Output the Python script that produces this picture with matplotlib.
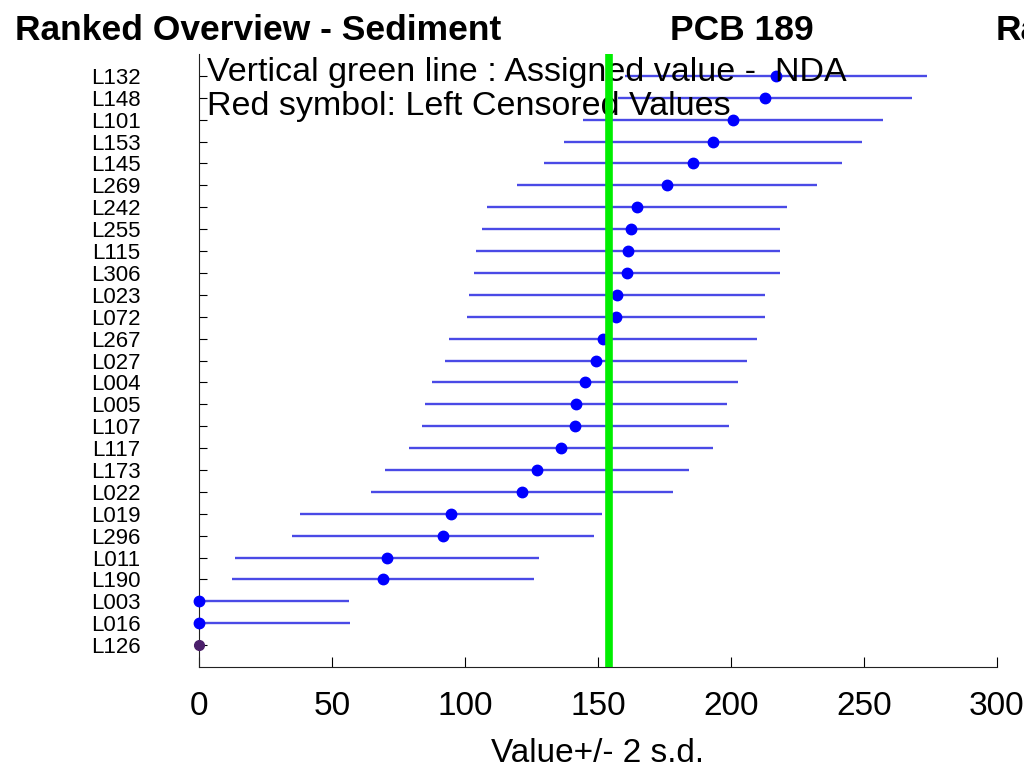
import matplotlib.pyplot as plt
import numpy as np

labs = ['L132', 'L148', 'L101', 'L153', 'L145', 'L269', 'L242', 'L255', 'L115',
        'L306', 'L023', 'L072', 'L267', 'L027', 'L004', 'L005', 'L107', 'L117',
        'L173', 'L022', 'L019', 'L296', 'L011', 'L190', 'L003', 'L016', 'L126']
values = [216.9, 212.8, 200.8, 193.2, 185.7, 175.9, 164.7, 162.4, 161.3,
          160.9, 157.1, 156.8, 151.9, 149.2, 145.1, 141.7, 141.4, 136.1,
          127.1, 121.4, 94.7, 91.7, 70.7, 69.2, 0.0, 0.0, 0.0]
two_sd = [56.8, 55.3, 56.4, 56.0, 56.0, 56.4, 56.4, 56.0, 57.1,
          57.5, 55.6, 56.0, 57.9, 56.8, 57.5, 56.8, 57.7, 57.0,
          57.1, 56.8, 56.8, 56.8, 57.0, 56.8, 56.4, 56.8, 0.0]
censored = [False] * 26 + [True]
assigned = 154.0
xticks = [0, 50, 100, 150, 200, 250, 300]

plt.rcParams['font.family'] = ['Liberation Sans', 'DejaVu Sans']

fig = plt.figure(figsize=(10.24, 7.72), dpi=100)
ax = fig.add_axes([0.1943, 0.136, 0.7793, 0.794])

n = len(labs)
ypos = np.arange(n, 0, -1)
vals = np.array(values)
sd = np.array(two_sd)
cens = np.array(censored)

ok = ~cens
ax.hlines(ypos[ok], vals[ok] - sd[ok], vals[ok] + sd[ok], color='#4a4ae6',
          linewidth=1.7, zorder=2)
ax.plot(vals[ok], ypos[ok], 'o', color='#0000ff', markersize=7.5, zorder=3,
        clip_on=False)
ax.plot(vals[cens], ypos[cens], 'o', color='#4b1f6b', markersize=7, zorder=3,
        clip_on=False)

ax.axvline(assigned, color='#00ee00', linewidth=5.5, zorder=5)

ax.set_xlim(0, 300)
ax.set_ylim(0, n + 1)
ax.set_xticks(xticks)
ax.set_xticklabels([str(t) for t in xticks], fontsize=24)
ax.set_yticks(ypos)
ax.set_yticklabels(labs, fontsize=16)
ax.tick_params(axis='y', direction='in', length=6, pad=42)
ax.tick_params(axis='x', direction='in', length=7, pad=17)
ax.spines['top'].set_visible(False)
ax.spines['right'].set_visible(False)
for s in ['left', 'bottom']:
    ax.spines[s].set_color('#222222')
ax.set_xlabel('Value+/- 2 s.d.', fontsize=24, labelpad=12)

ax.text(3, 27.15, 'Vertical green line : Assigned value -  NDA', fontsize=24.5,
        va='center', ha='left', zorder=4)
ax.text(3, 25.6, 'Red symbol: Left Censored Values', fontsize=24.5,
        va='center', ha='left', zorder=4)

fig.text(0.0146, 0.961, 'Ranked Overview - Sediment', fontsize=25.5,
         fontweight='bold', va='center', ha='left')
fig.text(0.654, 0.961, 'PCB 189', fontsize=25.5, fontweight='bold',
         va='center', ha='left')
fig.text(0.972, 0.961, 'Ranked', fontsize=25.5, fontweight='bold',
         va='center', ha='left')

fig.savefig('out.png', dpi=100)
